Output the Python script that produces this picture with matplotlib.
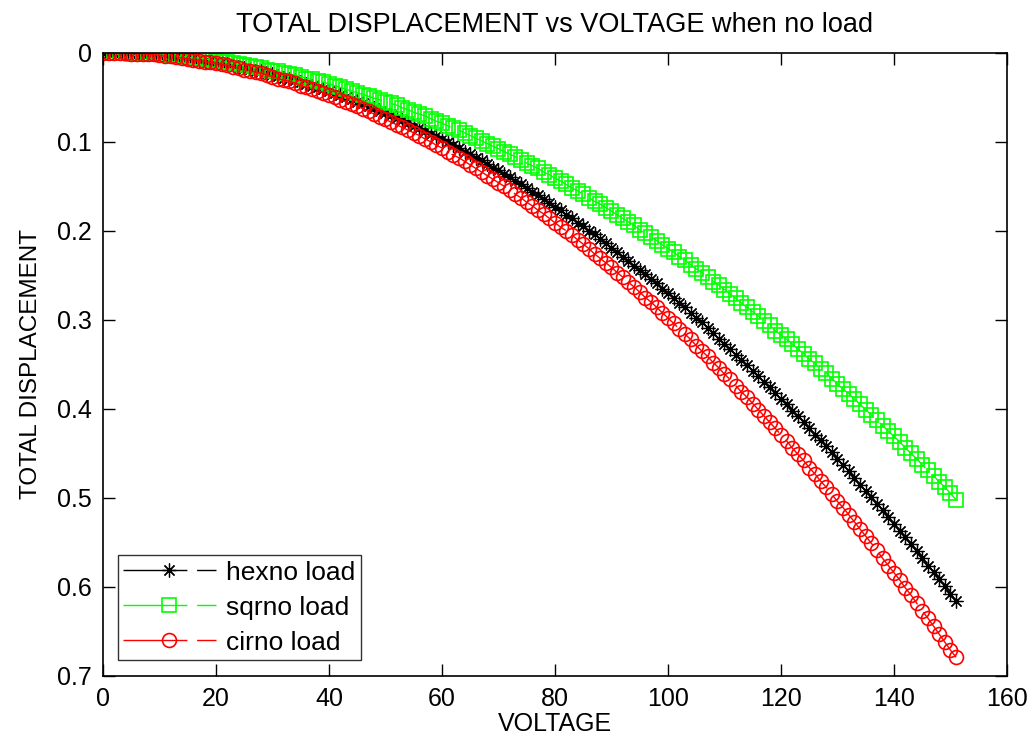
import matplotlib
matplotlib.use("Agg")
import matplotlib.pyplot as plt
from matplotlib import font_manager

# fuente angosta tipo MATLAB si esta disponible
nombres = {f.name for f in font_manager.fontManager.ttflist}
fuente = "Liberation Sans"
for candidata in ["Liberation Sans Narrow", "DejaVu Sans Condensed"]:
    if candidata in nombres:
        fuente = candidata
        break
plt.rcParams["font.family"] = [fuente, "DejaVu Sans"]

# voltaje aplicado (V)
voltaje = list(range(0, 152))

# desplazamiento total, diafragma hexagonal
hex_no_load = [
    0.000, 0.000, 0.000, 0.000, 0.000, 0.001, 0.001, 0.001, 0.002, 0.002,
    0.003, 0.003, 0.004, 0.005, 0.005, 0.006, 0.007, 0.008, 0.009, 0.010,
    0.011, 0.012, 0.013, 0.014, 0.016, 0.017, 0.018, 0.020, 0.021, 0.023,
    0.024, 0.026, 0.028, 0.029, 0.031, 0.033, 0.035, 0.037, 0.039, 0.041,
    0.043, 0.045, 0.048, 0.050, 0.052, 0.055, 0.057, 0.060, 0.062, 0.065,
    0.068, 0.070, 0.073, 0.076, 0.079, 0.082, 0.085, 0.088, 0.091, 0.094,
    0.097, 0.100, 0.104, 0.107, 0.111, 0.114, 0.118, 0.121, 0.125, 0.129,
    0.132, 0.136, 0.140, 0.144, 0.148, 0.152, 0.156, 0.160, 0.164, 0.169,
    0.173, 0.177, 0.182, 0.186, 0.191, 0.195, 0.200, 0.204, 0.209, 0.214,
    0.219, 0.224, 0.229, 0.234, 0.239, 0.244, 0.249, 0.254, 0.259, 0.265,
    0.270, 0.275, 0.281, 0.286, 0.292, 0.298, 0.303, 0.309, 0.315, 0.321,
    0.327, 0.333, 0.339, 0.345, 0.351, 0.357, 0.363, 0.370, 0.376, 0.382,
    0.389, 0.395, 0.402, 0.408, 0.415, 0.422, 0.429, 0.435, 0.442, 0.449,
    0.456, 0.463, 0.470, 0.478, 0.485, 0.492, 0.499, 0.507, 0.514, 0.522,
    0.529, 0.537, 0.544, 0.552, 0.560, 0.568, 0.576, 0.583, 0.591, 0.599,
    0.608, 0.616,
]

# desplazamiento total, diafragma cuadrado
sqr_no_load = [
    0.000, 0.000, 0.000, 0.000, 0.000, 0.001, 0.001, 0.001, 0.001, 0.002,
    0.002, 0.003, 0.003, 0.004, 0.004, 0.005, 0.006, 0.006, 0.007, 0.008,
    0.009, 0.010, 0.011, 0.012, 0.013, 0.014, 0.015, 0.016, 0.017, 0.019,
    0.020, 0.021, 0.023, 0.024, 0.025, 0.027, 0.029, 0.030, 0.032, 0.033,
    0.035, 0.037, 0.039, 0.041, 0.043, 0.045, 0.047, 0.049, 0.051, 0.053,
    0.055, 0.057, 0.059, 0.062, 0.064, 0.067, 0.069, 0.071, 0.074, 0.077,
    0.079, 0.082, 0.085, 0.087, 0.090, 0.093, 0.096, 0.099, 0.102, 0.105,
    0.108, 0.111, 0.114, 0.117, 0.120, 0.124, 0.127, 0.130, 0.134, 0.137,
    0.141, 0.144, 0.148, 0.152, 0.155, 0.159, 0.163, 0.167, 0.170, 0.174,
    0.178, 0.182, 0.186, 0.190, 0.194, 0.199, 0.203, 0.207, 0.211, 0.216,
    0.220, 0.224, 0.229, 0.233, 0.238, 0.243, 0.247, 0.252, 0.257, 0.261,
    0.266, 0.271, 0.276, 0.281, 0.286, 0.291, 0.296, 0.301, 0.306, 0.312,
    0.317, 0.322, 0.327, 0.333, 0.338, 0.344, 0.349, 0.355, 0.360, 0.366,
    0.372, 0.378, 0.383, 0.389, 0.395, 0.401, 0.407, 0.413, 0.419, 0.425,
    0.431, 0.437, 0.444, 0.450, 0.456, 0.463, 0.469, 0.475, 0.482, 0.488,
    0.495, 0.502,
]

# desplazamiento total, diafragma circular
cir_no_load = [
    0.000, 0.000, 0.000, 0.000, 0.000, 0.001, 0.001, 0.001, 0.002, 0.002,
    0.003, 0.004, 0.004, 0.005, 0.006, 0.007, 0.008, 0.009, 0.010, 0.011,
    0.012, 0.013, 0.014, 0.016, 0.017, 0.019, 0.020, 0.022, 0.023, 0.025,
    0.027, 0.029, 0.031, 0.032, 0.034, 0.037, 0.039, 0.041, 0.043, 0.045,
    0.048, 0.050, 0.053, 0.055, 0.058, 0.060, 0.063, 0.066, 0.069, 0.072,
    0.075, 0.078, 0.081, 0.084, 0.087, 0.090, 0.093, 0.097, 0.100, 0.104,
    0.107, 0.111, 0.115, 0.118, 0.122, 0.126, 0.130, 0.134, 0.138, 0.142,
    0.146, 0.150, 0.154, 0.159, 0.163, 0.168, 0.172, 0.177, 0.181, 0.186,
    0.191, 0.196, 0.200, 0.205, 0.210, 0.215, 0.220, 0.226, 0.231, 0.236,
    0.241, 0.247, 0.252, 0.258, 0.263, 0.269, 0.275, 0.280, 0.286, 0.292,
    0.298, 0.304, 0.310, 0.316, 0.322, 0.329, 0.335, 0.341, 0.348, 0.354,
    0.361, 0.367, 0.374, 0.381, 0.387, 0.394, 0.401, 0.408, 0.415, 0.422,
    0.429, 0.436, 0.444, 0.451, 0.458, 0.466, 0.473, 0.481, 0.488, 0.496,
    0.504, 0.511, 0.519, 0.527, 0.535, 0.543, 0.551, 0.559, 0.568, 0.576,
    0.584, 0.592, 0.601, 0.609, 0.618, 0.627, 0.635, 0.644, 0.653, 0.662,
    0.671, 0.679,
]

x_ticks = [0, 20, 40, 60, 80, 100, 120, 140, 160]
y_ticks = [0, 0.1, 0.2, 0.3, 0.4, 0.5, 0.6, 0.7]
y_labels = ["0", "0.1", "0.2", "0.3", "0.4", "0.5", "0.6", "0.7"]

fig = plt.figure(figsize=(10.33, 7.37), dpi=100)
ax = fig.add_axes([0.0997, 0.0828, 0.8751, 0.8457])

# linea discontinua larga como la de MATLAB, casi tapada por los marcadores
guiones = (46, 7)
asterisco = (8, 2, 0)

ax.plot(voltaje, hex_no_load, color="black", dashes=guiones,
        marker=asterisco, markersize=10, markeredgewidth=0.9,
        linewidth=1.0, label="hexno load")
ax.plot(voltaje, sqr_no_load, color=(0, 1, 0), dashes=guiones,
        marker="s", markersize=10, markerfacecolor="none",
        markeredgewidth=1.2, linewidth=1.0, label="sqrno load")
ax.plot(voltaje, cir_no_load, color=(1, 0, 0), dashes=guiones,
        marker="o", markersize=10, markerfacecolor="none",
        markeredgewidth=1.2, linewidth=1.0, label="cirno load")

ax.set_xlim(0, 160)
ax.set_ylim(0.7, 0)
ax.set_xticks(x_ticks)
ax.set_yticks(y_ticks)
ax.set_xticklabels([str(t) for t in x_ticks])
ax.set_yticklabels(y_labels)
ax.tick_params(direction="in", length=8.5, width=1, top=True, right=True,
               labelsize=18, pad=8)
for lado in ax.spines.values():
    lado.set_linewidth(1.2)

ax.set_title("TOTAL DISPLACEMENT vs VOLTAGE when no load", fontsize=19.5, pad=15)
ax.set_xlabel("VOLTAGE", fontsize=18, labelpad=1)
ax.set_ylabel("TOTAL DISPLACEMENT", fontsize=17.5, labelpad=11)

leg = ax.legend(loc="lower left", fontsize=19, frameon=True, fancybox=False,
                edgecolor="black", handlelength=3.5, handletextpad=0.4,
                borderpad=0.2, labelspacing=0.42, borderaxespad=0,
                bbox_to_anchor=(0.0166, 0.0257))
leg.get_frame().set_linewidth(1.0)

fig.savefig("out.png", dpi=100)
